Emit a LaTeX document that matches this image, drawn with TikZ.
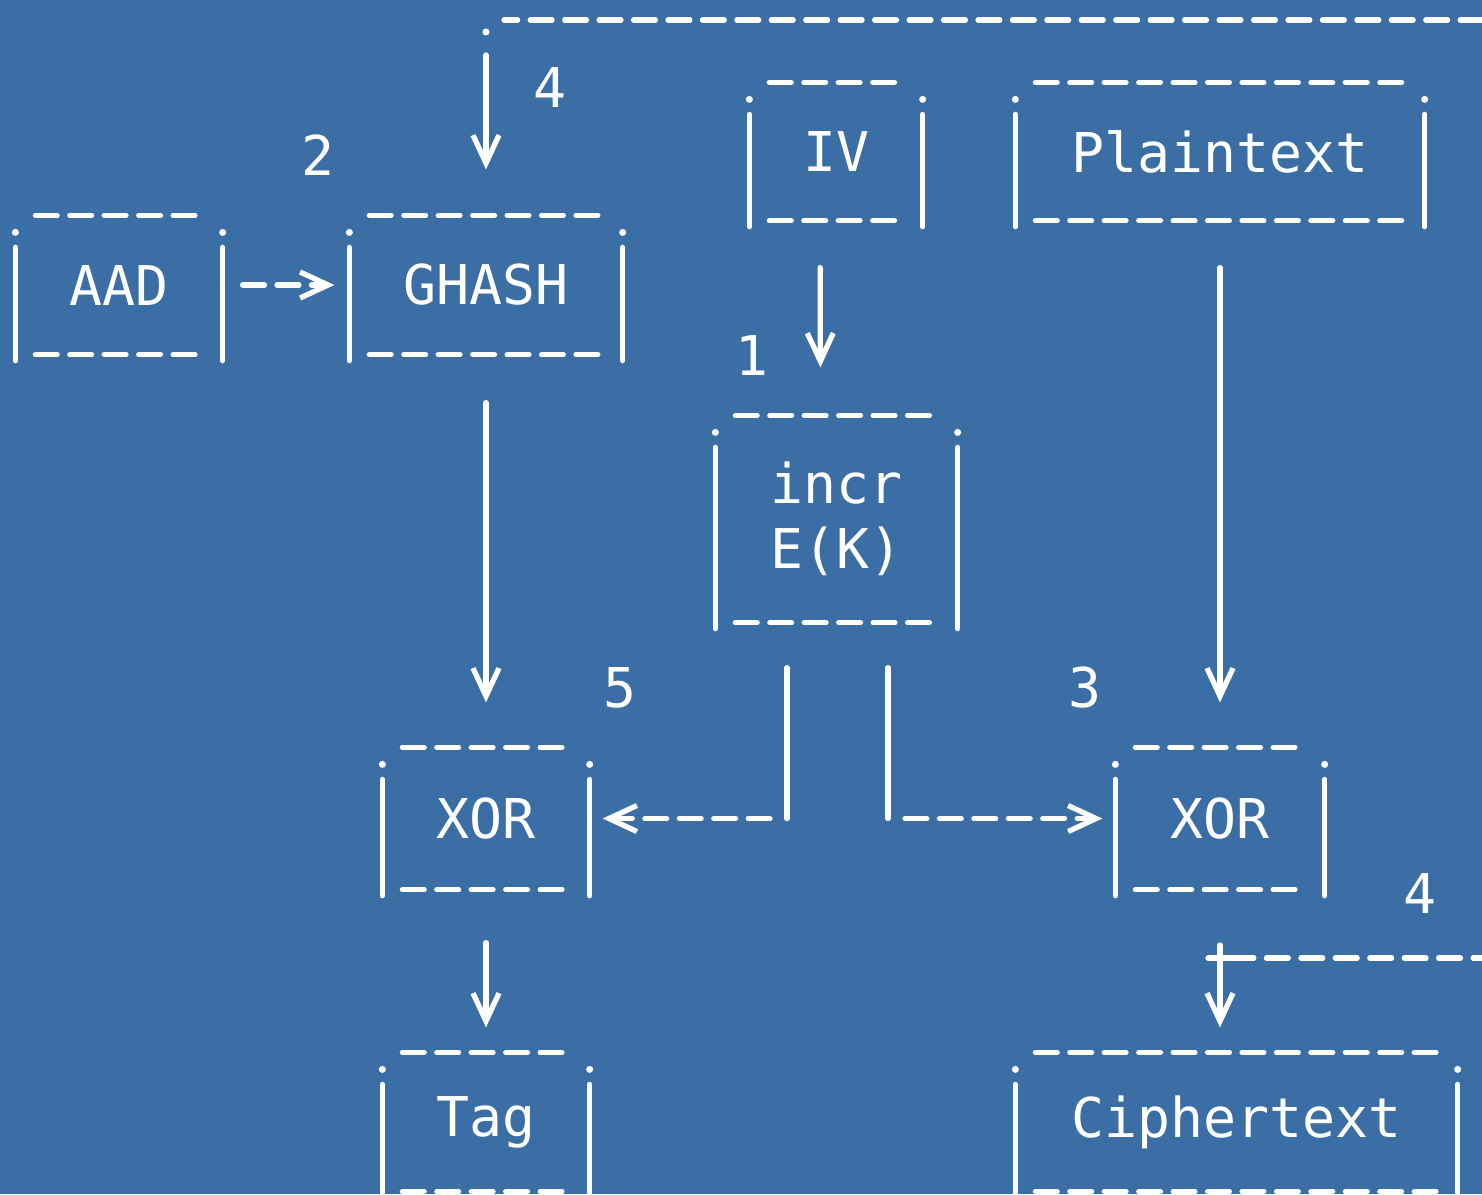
\documentclass[tikz,border=0pt]{standalone}
\usepackage{fontspec}
\setmonofont{DejaVu Sans Mono}
\usetikzlibrary{arrows.meta}
\definecolor{bgblue}{RGB}{59,110,165}
\begin{document}
\begin{tikzpicture}[white, line width=1.5pt, line cap=round,
    font=\ttfamily\fontsize{15.6}{18.4}\selectfont,
    dashline/.style={dash pattern=on 6.2pt off 3.6pt},
    vtip/.style={-{Straight Barb[length=0.28cm,width=0.26cm,line width=1.5pt]}},
    blk/.style={minimum height=1.34cm, inner sep=0pt, text=white}]
  \fill[bgblue] (0,0) rectangle (14.82,-11.94); %
  \useasboundingbox (0,0) rectangle (14.82,-11.94); %
  % boxes
  \node[blk, minimum width=2.02cm] (aad) at (1.19,-2.85) {AAD}; %
  \node[blk, minimum width=2.68cm] (ghash) at (4.86,-2.85) {GHASH}; %
  \node[blk, minimum width=1.68cm, minimum height=1.33cm] (iv) at (8.36,-1.515) {IV}; %
  \node[blk, minimum width=4.04cm, minimum height=1.33cm] (plain) at (12.2,-1.515) {Plaintext}; %
  \node[blk, minimum width=2.37cm, minimum height=2.02cm, align=center] (incr) at (8.365,-5.19) {incr\\E(K)}; %
  \node[blk, minimum width=2.02cm, minimum height=1.37cm] (xorl) at (4.86,-8.185) {XOR}; %
  \node[blk, minimum width=2.04cm, minimum height=1.37cm] (xorr) at (12.2,-8.185) {XOR}; %
  \node[blk, minimum width=2.02cm] (tag) at (4.86,-11.22) {Tag}; %
  \node[blk, minimum width=4.37cm] (ciph) at (12.365,-11.22) {Ciphertext}; %
  \foreach \n in {aad,ghash,iv,plain,incr,xorl,xorr,tag,ciph}{
    \draw[dashline] ([xshift=0.2cm]\n.north west) -- ([xshift=-0.2cm]\n.north east); %
    \draw[dashline] ([xshift=0.2cm]\n.south west) -- ([xshift=-0.2cm]\n.south east); %
    \draw ([yshift=-0.32cm]\n.north west) -- ([yshift=-0.06cm]\n.south west); %
    \draw ([yshift=-0.32cm]\n.north east) -- ([yshift=-0.06cm]\n.south east); %
    \fill ([yshift=-0.17cm]\n.north west) circle (0.035); %
    \fill ([yshift=-0.17cm]\n.north east) circle (0.035); %
  }
  % step numbers
  \node (s4top) at (5.5,-0.88) {4}; %
  \node (s2) at (3.18,-1.55) {2}; %
  \node (s1) at (7.52,-3.55) {1}; %
  \node (s5) at (6.2,-6.88) {5}; %
  \node (s3) at (10.85,-6.88) {3}; %
  \node (s4bot) at (14.2,-8.93) {4}; %
  % connectors
  \draw[dashline, vtip, shorten <=0.2cm, shorten >=0.15cm] (aad.east) -- (ghash.west); %
  \draw[vtip, shorten <=0.47cm, shorten >=0.48cm] ([xshift=-0.16cm]iv.south) -- ([xshift=-0.16cm]incr.north); %
  \draw[vtip, shorten <=0.47cm, shorten >=0.45cm] (plain.south) -- (xorr.north); %
  \draw[vtip, shorten <=0.48cm, shorten >=0.45cm] (ghash.south) -- (xorl.north); %
  \draw[vtip, shorten <=0.53cm, shorten >=0.25cm] (xorl.south) -- (tag.north); %
  % counter output to both XORs
  \coordinate (kl) at ([xshift=-0.495cm]incr.south |- xorl.east); %
  \coordinate (kr) at ([xshift=0.515cm]incr.south |- xorr.west); %
  \draw[shorten <=0.45cm] ([xshift=-0.495cm]incr.south) -- (kl); %
  \draw[shorten <=0.45cm] ([xshift=0.515cm]incr.south) -- (kr); %
  \draw[dashline, vtip, shorten <=0.17cm, shorten >=0.13cm] (kl) -- (xorl.east); %
  \draw[dashline, vtip, shorten <=0.17cm, shorten >=0.13cm] (kr) -- (xorr.west); %
  % feedback lines from the right
  \coordinate (fbtop) at (14.82,-0.2); %
  \coordinate (ctop) at (ghash.north |- fbtop); %
  \draw[dashline, shorten >=0.18cm] (fbtop) -- (ctop); %
  \fill ([yshift=-0.12cm]ctop) circle (0.035); %
  \draw[vtip, shorten <=0.35cm, shorten >=0.46cm] (ctop) -- (ghash.north); %
  \coordinate (fbbot) at (14.82,-9.58); %
  \coordinate (cbot) at (xorr.south |- fbbot); %
  \draw ([xshift=-0.12cm]cbot) -- ([xshift=0.12cm]cbot); %
  \draw[dashline] ([xshift=0.12cm]cbot) -- (fbbot); %
  \draw[vtip, shorten <=-0.13cm, shorten >=0.25cm] (cbot) -- (cbot |- ciph.north); %
\end{tikzpicture}
\end{document}
